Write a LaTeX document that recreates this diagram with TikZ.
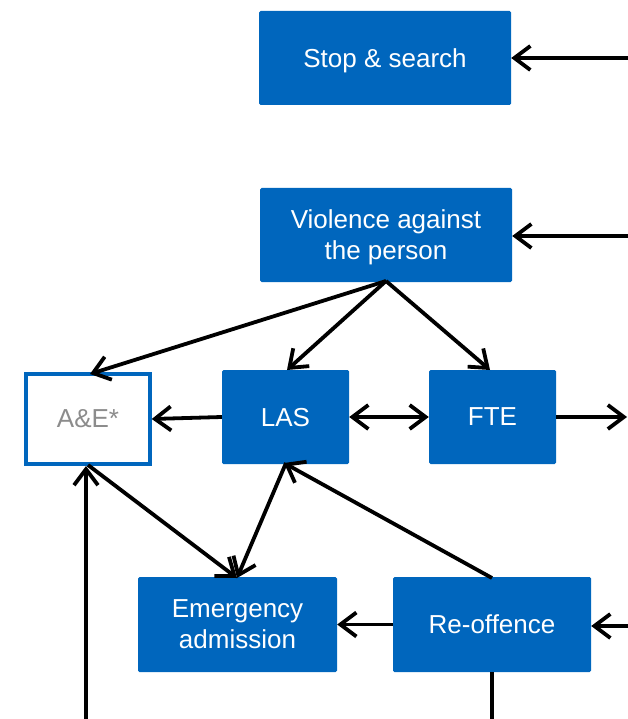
\documentclass[tikz,border=0pt]{standalone}
\usepackage{fontspec}
\setmainfont{Liberation Sans}
\usetikzlibrary{arrows.meta}
\definecolor{boxblue}{RGB}{0,102,189}
\definecolor{txtgray}{RGB}{140,140,140}
\begin{document}
\begin{tikzpicture}[x=1pt,y=-1pt,
  bluebox/.style={draw=none,fill=boxblue,text=white,rounded corners=1.5pt,inner sep=0pt,align=center,text depth=0pt,font=\fontsize{26}{31}\selectfont},
  whitebox/.style={draw=boxblue,line width=3.5pt,fill=white,text=txtgray,inner sep=0pt,align=center,font=\fontsize{26}{31}\selectfont},
  tip/.style={Straight Barb[length=16pt,width=24pt,line width=3.8pt]},
  conn/.style={line width=3.8pt,-{Straight Barb[length=16pt,width=24pt,line width=3.8pt]}},
  dconn/.style={line width=3.8pt,{Straight Barb[length=16pt,width=24pt,line width=3.8pt]}-{Straight Barb[length=16pt,width=24pt,line width=3.8pt]}},
  plain/.style={line width=3.8pt}]
\useasboundingbox (0,0) rectangle (628,719);
\node[bluebox,minimum width=252pt,minimum height=94pt] (stop) at (385,58) {Stop \& search};
\node[bluebox,minimum width=252pt,minimum height=94pt] (viol) at (386,235) {Violence against\\the person};
\node[whitebox,minimum width=124pt,minimum height=90pt] (ae) at (88,419) {A\&E*};
\node[bluebox,minimum width=127pt,minimum height=94pt] (las) at (285.5,417) {LAS};
\node[bluebox,minimum width=127pt,minimum height=94pt] (fte) at (492.5,417) {FTE};
\node[bluebox,minimum width=199pt,minimum height=95pt] (emerg) at (237.5,624.5) {Emergency\\admission};
\node[bluebox,minimum width=198pt,minimum height=95pt] (reoff) at (492,624.5) {Re-offence};
\coordinate (rs) at (630,58);
\coordinate (rv) at (630,236);
\coordinate (rf) at (627,418);
\coordinate (rr) at (630,626);
\coordinate (bl) at (86,722);
\coordinate (br) at (492,722);
\coordinate (vb) at (386,281);
\coordinate (aetop) at (90,374);
\coordinate (aebot) at (86,466);
\coordinate (aebot2) at (88,465);
\coordinate (lastop) at (287,370);
\coordinate (ftetop) at (490,370);
\coordinate (lasbot) at (286,463);
\coordinate (lasbot2) at (284,463);
\coordinate (emtop) at (237,578);
\coordinate (retop) at (492,578);
\coordinate (rebot) at (492,672);
\draw[conn] (rs) -- (stop.east);
\draw[conn] (rv) -- (viol.east |- rv);
\draw[conn] (vb) -- (aetop);
\draw[conn] (vb) -- (lastop);
\draw[conn] (vb) -- (ftetop);
\draw[conn] (las.west) -- (ae.east);
\draw[dconn] (las.east) -- (fte.west);
\draw[conn] (fte.east) -- (fte.east -| rf);
\draw[conn] (aebot2) -- (emtop);
\draw[conn] (lasbot) -- (emtop);
\draw[conn] (retop) -- (lasbot2);
\draw[conn] (reoff.west) -- (emerg.east);
\draw[conn] (rr) -- (reoff.east |- rr);
\draw[conn] (bl) -- (aebot);
\draw[plain] (rebot) -- (br);
\end{tikzpicture}
\end{document}
